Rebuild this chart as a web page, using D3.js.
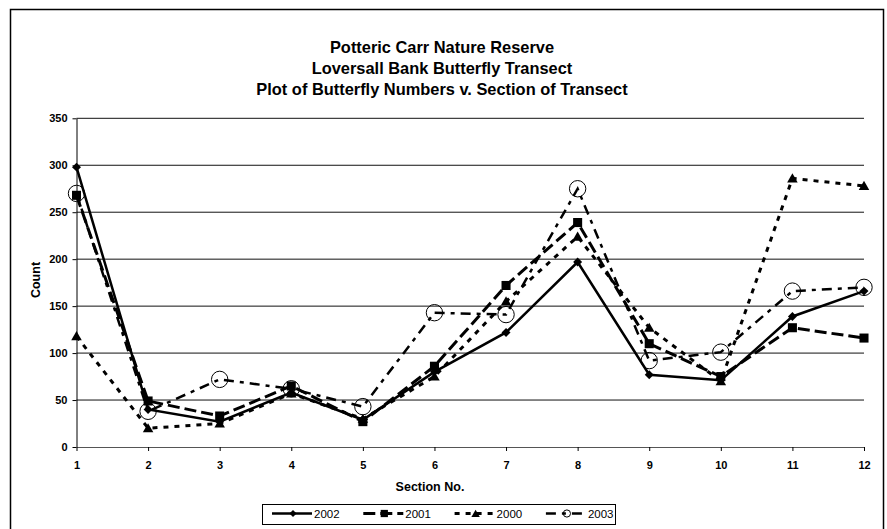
<!DOCTYPE html>
<html>
<head>
<meta charset="utf-8">
<script src="https://cdn.jsdelivr.net/npm/d3@7"></script>
<style>
  body { margin: 0; background: #fff; }
  text { font-family: "Liberation Sans", Arial, sans-serif; fill: #000; }
</style>
</head>
<body>
<div id="chart"></div>
<script>
// chart data
var sections = [1, 2, 3, 4, 5, 6, 7, 8, 9, 10, 11, 12];
var seriesNames = ["2002", "2001", "2000", "2003"];
var counts2002 = [298, 40, 27, 58, 29, 80, 122, 197, 77, 71, 139, 166];
var counts2001 = [268, 49, 33, 65, 27, 86, 172, 239, 110, 75, 127, 116];
var counts2000 = [118, 20, 25, 57, 30, 75, 155, 224, 127, 70, 286, 278];
var counts2003 = [270, 38, 72, 62, 43, 143, 141, 275, 92, 101, 166, 170];
var yTicks = [0, 50, 100, 150, 200, 250, 300, 350];
var titleLines = ["Potteric Carr Nature Reserve", "Loversall Bank Butterfly Transect",
                  "Plot of Butterfly Numbers v. Section of Transect"];

var allCounts = [counts2002, counts2001, counts2000, counts2003];

// look of each series (same order as seriesNames)
var styles = [
    { dash: null,        width: 2.5, marker: "diamond" },
    { dash: "12,5",      width: 3,   marker: "square" },
    { dash: "5,6",       width: 3,   marker: "triangle" },
    { dash: "10,6,4,6",  width: 2.5, marker: "circle" }
];

var W = 887, H = 529;
var svg = d3.select("#chart").append("svg")
    .attr("width", W).attr("height", H);

// outer frame
svg.append("rect")
    .attr("x", 10.5).attr("y", 9.5)
    .attr("width", 873).attr("height", 540)
    .attr("fill", "none").attr("stroke", "#000").attr("stroke-width", 1.5);

var x = d3.scaleLinear().domain([1, 12]).range([76.5, 864]);
var y = d3.scaleLinear().domain([0, 350]).range([447, 118.3]);

// title
svg.append("g").selectAll("text")
    .data(titleLines)
    .enter().append("text")
    .attr("x", 442)
    .attr("y", function (d, i) { return 52.5 + i * 21; })
    .attr("text-anchor", "middle")
    .style("font-size", "16.4px")
    .style("font-weight", "bold")
    .text(function (d) { return d; });

// gridlines
svg.append("g").selectAll("line")
    .data(yTicks.filter(function (d) { return d > 0; }))
    .enter().append("line")
    .attr("x1", x(1)).attr("x2", x(12))
    .attr("y1", function (d) { return y(d); })
    .attr("y2", function (d) { return y(d); })
    .attr("stroke", "#111").attr("stroke-width", 1);

// y axis
var yAxis = svg.append("g")
    .attr("transform", "translate(" + x(1) + ",0)")
    .call(d3.axisLeft(y).tickValues(yTicks).tickSize(4).tickSizeOuter(0).tickPadding(5));
yAxis.selectAll("text").style("font-size", "11px").style("font-weight", "bold")
    .style("font-family", "'Liberation Sans', Arial, sans-serif");
yAxis.select(".domain").attr("stroke", "#000");

// x axis
var xAxis = svg.append("g")
    .attr("transform", "translate(0," + y(0) + ")")
    .call(d3.axisBottom(x).tickValues(sections).tickFormat(d3.format("d"))
        .tickSize(4).tickSizeOuter(0).tickPadding(10));
xAxis.selectAll("text").style("font-size", "11px").style("font-weight", "bold")
    .style("font-family", "'Liberation Sans', Arial, sans-serif");
xAxis.select(".domain").attr("stroke", "#555");

// axis titles
svg.append("text")
    .attr("transform", "translate(40,280) rotate(-90)")
    .attr("text-anchor", "middle")
    .style("font-size", "12.5px").style("font-weight", "bold")
    .text("Count");
svg.append("text")
    .attr("x", 430).attr("y", 491)
    .attr("text-anchor", "middle")
    .style("font-size", "12.5px").style("font-weight", "bold")
    .text("Section No.");

function drawMarker(g, kind, cx, cy, big) {
    var s = big ? 1 : 0.8;
    if (kind === "circle") {
        g.append("circle").attr("cx", cx).attr("cy", cy).attr("r", big ? 8.2 : 3.6)
            .attr("fill", "none").attr("stroke", "#000").attr("stroke-width", 1);
    } else if (kind === "diamond") {
        g.append("path").attr("d", d3.symbol(d3.symbolSquare, 40 * s * s)())
            .attr("transform", "translate(" + cx + "," + cy + ") rotate(45)")
            .attr("fill", "#000");
    } else if (kind === "square") {
        g.append("path").attr("d", d3.symbol(d3.symbolSquare, 82 * s * s)())
            .attr("transform", "translate(" + cx + "," + cy + ")")
            .attr("fill", "#000");
    } else {
        g.append("path").attr("d", d3.symbol(d3.symbolTriangle, 48 * s * s)())
            .attr("transform", "translate(" + cx + "," + (cy + 1) + ")")
            .attr("fill", "#000");
    }
}

var line = d3.line()
    .x(function (d, i) { return x(sections[i]); })
    .y(function (d) { return y(d); });

// series
seriesNames.forEach(function (name, k) {
    var st = styles[k];
    var g = svg.append("g").attr("class", "series-" + name);
    g.append("path")
        .datum(allCounts[k])
        .attr("d", line)
        .attr("fill", "none")
        .attr("stroke", "#000")
        .attr("stroke-width", st.width)
        .attr("stroke-dasharray", st.dash);
    allCounts[k].forEach(function (v, i) {
        drawMarker(g, st.marker, x(sections[i]), y(v), true);
    });
});

// legend
var lg = svg.append("g");
lg.append("rect")
    .attr("x", 262.5).attr("y", 504.5).attr("width", 353).attr("height", 20)
    .attr("fill", "#fff").attr("stroke", "#000").attr("stroke-width", 1);
seriesNames.forEach(function (name, k) {
    var st = styles[k];
    var mx = 293 + k * 91.3;
    lg.append("line")
        .attr("x1", mx - 21).attr("x2", mx + 19)
        .attr("y1", 513.5).attr("y2", 513.5)
        .attr("stroke", "#000").attr("stroke-width", st.width)
        .attr("stroke-dasharray", st.dash);
    drawMarker(lg, st.marker, mx, 513.5, false);
    lg.append("text")
        .attr("x", mx + 21).attr("y", 517.5)
        .style("font-size", "11.5px")
        .text(name);
});
</script>
</body>
</html>
